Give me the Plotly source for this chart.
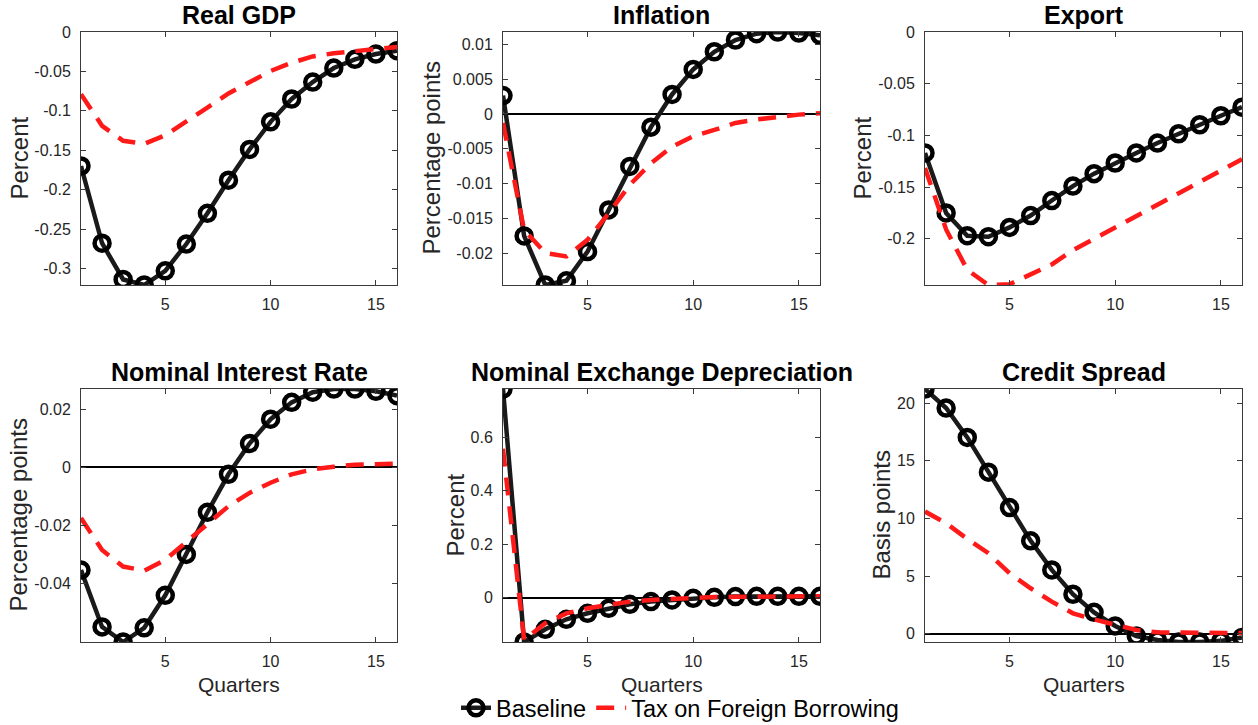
import plotly.graph_objects as go
from plotly.subplots import make_subplots

# Impulse responses, quarters 1..16
quarters = list(range(1, 17))

gdp_base = [-0.170, -0.268, -0.314, -0.321, -0.303, -0.269, -0.230, -0.188,
            -0.149, -0.114, -0.085, -0.0635, -0.0457, -0.0347, -0.028, -0.0237]
gdp_tax = [-0.079, -0.119, -0.138, -0.142, -0.131, -0.114, -0.096, -0.078,
           -0.063, -0.0495, -0.039, -0.031, -0.027, -0.024, -0.021, -0.019]

infl_base = [0.00264, -0.01755, -0.0246, -0.0240, -0.0198, -0.0138, -0.00755, -0.0019,
             0.0028, 0.0064, 0.00894, 0.01063, 0.01154, 0.01178, 0.01163, 0.0113]
infl_tax = [-0.0013, -0.0167, -0.0200, -0.0205, -0.0181, -0.0143, -0.0102, -0.0071,
            -0.0047, -0.0032, -0.0023, -0.0013, -0.0008, -0.0004, -0.0001, 0.0001]

export_base = [-0.117, -0.175, -0.197, -0.198, -0.189, -0.1775, -0.163, -0.149,
               -0.137, -0.1267, -0.117, -0.1074, -0.0984, -0.0897, -0.081, -0.0727]
export_tax = [-0.1315, -0.191, -0.230, -0.2447, -0.244, -0.234, -0.2248, -0.211,
              -0.200, -0.190, -0.179, -0.168, -0.156, -0.145, -0.134, -0.123]

rate_base = [-0.0355, -0.0551, -0.0603, -0.0554, -0.0442, -0.0301, -0.0156, -0.0025,
             0.0081, 0.0165, 0.0223, 0.0258, 0.0269, 0.0269, 0.0261, 0.0246]
rate_tax = [-0.0176, -0.0286, -0.0343, -0.0357, -0.0320, -0.0257, -0.0193, -0.0135,
            -0.0089, -0.0054, -0.0025, -0.0008, 0.0001, 0.0008, 0.0010, 0.0012]

fx_base = [0.780, -0.166, -0.1185, -0.081, -0.0586, -0.040, -0.025, -0.015,
           -0.0087, -0.0025, 0.0012, 0.004, 0.005, 0.005, 0.005, 0.005]
fx_tax = [0.557, -0.158, -0.096, -0.059, -0.040, -0.027, -0.015, -0.0087,
          -0.004, -0.001, 0.002, 0.003, 0.004, 0.005, 0.005, 0.005]

spread_base = [21.22, 19.57, 17.02, 14.01, 10.94, 8.05, 5.53, 3.42,
               1.85, 0.67, -0.20, -0.55, -0.72, -0.72, -0.62, -0.32]
spread_tax = [10.59, 9.58, 8.22, 6.98, 5.24, 3.94, 2.78, 1.77,
              1.24, 0.75, 0.32, 0.12, 0.09, 0.08, 0.07, 0.06]

titles = ["Real GDP", "Inflation", "Export",
          "Nominal Interest Rate", "Nominal Exchange Depreciation", "Credit Spread"]
ylabels = ["Percent", "Percentage points", "Percent",
           "Percentage points", "Percent", "Basis points"]

x_ticks = [5, 10, 15]
y_ticks = [
    [0, -0.05, -0.1, -0.15, -0.2, -0.25, -0.3],
    [0.01, 0.005, 0, -0.005, -0.01, -0.015, -0.02],
    [0, -0.05, -0.1, -0.15, -0.2],
    [0.02, 0, -0.02, -0.04],
    [0.6, 0.4, 0.2, 0],
    [20, 15, 10, 5, 0],
]
y_ticktext = [
    ["0", "-0.05", "-0.1", "-0.15", "-0.2", "-0.25", "-0.3"],
    ["0.01", "0.005", "0", "-0.005", "-0.01", "-0.015", "-0.02"],
    ["0", "-0.05", "-0.1", "-0.15", "-0.2"],
    ["0.02", "0", "-0.02", "-0.04"],
    ["0.6", "0.4", "0.2", "0"],
    ["20", "15", "10", "5", "0"],
]

series = [
    (gdp_base, gdp_tax), (infl_base, infl_tax), (export_base, export_tax),
    (rate_base, rate_tax), (fx_base, fx_tax), (spread_base, spread_tax),
]

W, H = 1258, 725
FONT = "Liberation Sans, Arial, Helvetica, sans-serif"
BLACK = "#1a1a1a"
RED = "#ff1a1a"
AXIS = "#3a3a3a"
TICK_TXT = "#262626"

# pixel boxes of the six axes (left, right) and (top, bottom)
col_px = [(81, 397), (503, 820), (925, 1242)]
row_px = [(32, 285), (389, 642)]
ylabel_px = [19, 431, 862, 18, 455, 881]

fig = make_subplots(rows=2, cols=3)

for i, (base, tax) in enumerate(series):
    r, c = i // 3 + 1, i % 3 + 1
    first = i == 0
    fig.add_trace(go.Scatter(
        x=quarters, y=base, mode="lines+markers", name="Baseline",
        line=dict(color=BLACK, width=4.5),
        marker=dict(symbol="circle-open", size=15, color="black",
                    line=dict(width=4.5, color="black")),
        showlegend=first, legendgroup="base",
    ), row=r, col=c)
    fig.add_trace(go.Scatter(
        x=quarters, y=tax, mode="lines", name="Tax on Foreign Borrowing",
        line=dict(color=RED, width=4.5, dash="18px,11px"),
        showlegend=first, legendgroup="tax",
    ), row=r, col=c)

    lo = min(0, min(base), min(tax))
    hi = max(0, max(base), max(tax))
    (xl, xr), (yt, yb) = col_px[c - 1], row_px[r - 1]

    fig.update_xaxes(
        domain=[xl / W, xr / W], range=[1, 16], automargin=False,
        tickvals=x_ticks, ticks="inside", ticklen=5, tickcolor=AXIS,
        showline=True, mirror="ticks", linecolor=AXIS, linewidth=1,
        showgrid=False, zeroline=False,
        tickfont=dict(family=FONT, size=16, color=TICK_TXT),
        ticklabelstandoff=5,
        row=r, col=c,
    )
    fig.update_yaxes(
        domain=[1 - yb / H, 1 - yt / H], range=[lo, hi], automargin=False,
        tickvals=y_ticks[i], ticktext=y_ticktext[i],
        ticks="inside", ticklen=5, tickcolor=AXIS,
        showline=True, mirror="ticks", linecolor=AXIS, linewidth=1,
        showgrid=False, zeroline=True, zerolinecolor="black", zerolinewidth=1.5,
        tickfont=dict(family=FONT, size=16, color=TICK_TXT),
        ticklabelstandoff=6,
        row=r, col=c,
    )

    cx = (xl + xr) / 2 / W
    # panel title
    fig.add_annotation(
        text="<b>" + titles[i] + "</b>", xref="paper", yref="paper",
        x=cx, y=1 - (yt - 17) / H, xanchor="center", yanchor="middle",
        showarrow=False, font=dict(family=FONT, size=25, color="black"),
    )
    # y label
    fig.add_annotation(
        text=ylabels[i], xref="paper", yref="paper", textangle=-90,
        x=ylabel_px[i] / W, y=1 - (yt + yb) / 2 / H,
        xanchor="center", yanchor="middle", showarrow=False,
        font=dict(family=FONT, size=24, color=TICK_TXT),
    )
    if r == 2:
        fig.add_annotation(
            text="Quarters", xref="paper", yref="paper",
            x=cx, y=1 - 684 / H, xanchor="center", yanchor="middle",
            showarrow=False, font=dict(family=FONT, size=21, color=TICK_TXT),
        )

fig.update_layout(
    width=W, height=H,
    margin=dict(l=0, r=0, t=0, b=0, pad=0, autoexpand=False),
    paper_bgcolor="white", plot_bgcolor="white",
    font=dict(family=FONT, color="black"),
    showlegend=True,
    legend=dict(
        orientation="h", x=680 / W, y=1 - 708 / H,
        xanchor="center", yanchor="middle",
        font=dict(family=FONT, size=23.5, color="black"),
        bgcolor="rgba(0,0,0,0)", itemwidth=30, tracegroupgap=0,
    ),
)

fig.write_html(
    "out.html",
    config={"displayModeBar": False},
    post_script="document.body.style.margin='0';document.body.style.overflow='hidden';",
)
